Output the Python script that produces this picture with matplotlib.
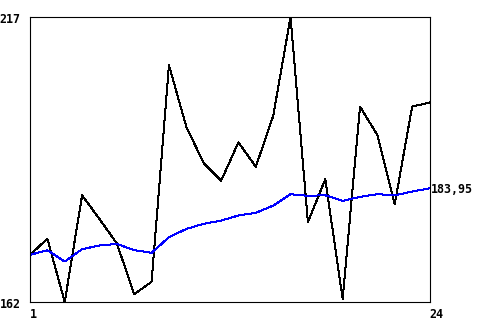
import numpy as np
import matplotlib
matplotlib.use('Agg')
import matplotlib.pyplot as plt

# valores (24 pontos)
dias = np.arange(1, 25)
valores = [171.1, 174.2, 162.0, 182.6, 178.0, 173.3, 163.5, 165.9,
           207.7, 195.8, 188.8, 185.4, 192.8, 188.1, 197.9, 217.0,
           177.4, 185.7, 162.6, 199.7, 194.2, 180.9, 199.7, 200.5]
media = [171.1, 172.0, 169.8, 172.2, 172.9, 173.2, 172.0, 171.5,
         174.5, 176.1, 177.1, 177.7, 178.7, 179.2, 180.6, 182.8,
         182.5, 182.6, 181.5, 182.3, 182.8, 182.6, 183.3, 183.95]
ymin, ymax = 162, 217

fonte = dict(family='DejaVu Sans Mono', fontweight='bold', fontsize=8.4, color='black')

fig = plt.figure(figsize=(4.8, 3.2), dpi=100)
ax = fig.add_axes([30/480, 18/320, 399.5/480, 285/320])
ax.plot(dias, valores, color='black', linewidth=0.72, antialiased=False)
ax.plot(dias, media, color='#0000ff', linewidth=0.72, antialiased=False)
ax.set_xlim(dias[0], dias[-1])
ax.set_ylim(ymin, ymax)
ax.set_xticks([])
ax.set_yticks([])
for s in ax.spines.values():
    s.set_linewidth(0.8)

# rotulos
ax.annotate(str(ymax), xy=(dias[0], ymax), xytext=(-6.8, -1), textcoords='offset points',
            ha='right', va='center_baseline', annotation_clip=False, **fonte)
ax.annotate(str(ymin), xy=(dias[0], ymin), xytext=(-6.8, -1), textcoords='offset points',
            ha='right', va='center_baseline', annotation_clip=False, **fonte)
ax.annotate(str(dias[0]), xy=(dias[0], ymin), xytext=(0, -4), textcoords='offset points',
            ha='left', va='top', annotation_clip=False, **fonte)
ax.annotate(str(dias[-1]), xy=(dias[-1], ymin), xytext=(0, -4), textcoords='offset points',
            ha='left', va='top', annotation_clip=False, **fonte)
ax.annotate(f"{media[-1]:.2f}".replace('.', ','), xy=(dias[-1], media[-1]), xytext=(1, 0),
            textcoords='offset points', ha='left', va='center_baseline',
            annotation_clip=False, **fonte)

fig.savefig('out.png', dpi=100)
